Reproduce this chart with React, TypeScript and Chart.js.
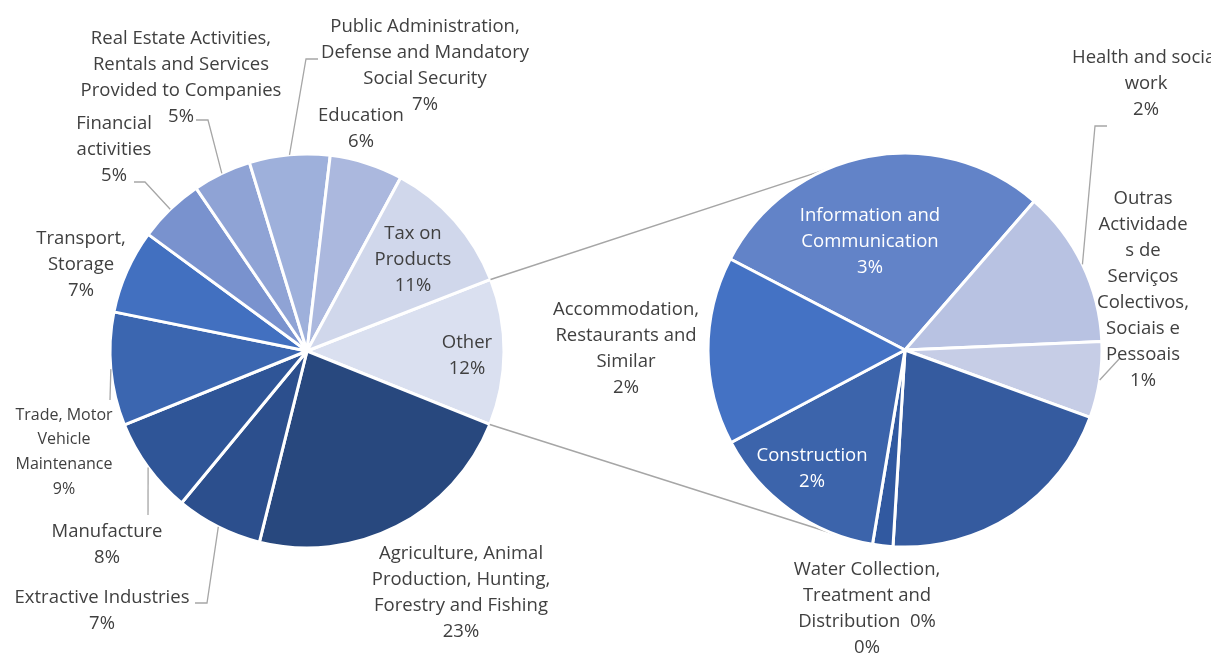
import React, { useEffect, useRef } from "react";
import { Chart, registerables } from "chart.js";

Chart.register(...registerables);

// ---------- data ----------
const detailCategories = [
  "Information and\nCommunication",
  "Health and social\nwork",
  "Outras\nActividade\ns de\nServiços\nColectivos,\nSociais e\nPessoais",
  "",
  "Water Collection,\nTreatment and\nDistribution  0%",
  "Construction",
  "Accommodation,\nRestaurants and\nSimilar",
];
const detailValues = [3.45, 1.55, 0.75, 2.45, 0.2, 1.75, 1.85];
const detailColors = ["#6283C8", "#B8C2E2", "#C6CDE6", "#355B9F", "#3159A0", "#3C64AB", "#4472C4"];

const mainCategories = [
  "Other",
  "Agriculture, Animal\nProduction, Hunting,\nForestry and Fishing",
  "Extractive Industries",
  "Manufacture",
  "Trade, Motor\nVehicle\nMaintenance",
  "Transport,\nStorage",
  "Financial\nactivities",
  "Real Estate Activities,\nRentals and Services\nProvided to Companies",
  "Public Administration,\nDefense and Mandatory\nSocial Security",
  "Education",
  "Tax on\nProducts",
];
const otherValue = detailValues.reduce((a, b) => a + b, 0);
const mainValues = [otherValue, 22.8, 7.1, 7.9, 9.3, 6.9, 5.4, 4.8, 6.6, 6.0, 11.2];
const mainColors = [
  "#DAE0F0", "#28487E", "#2C4F8D", "#2F5597", "#3B66B0", "#4270C0",
  "#7992CE", "#8FA3D5", "#9EB0DB", "#ABB8DE", "#D0D7EB",
];

// ---------- layout (label placement, not data) ----------
type Place = { x: number; y: number; size?: number; lh?: number; color?: string; leader?: number[][] } | null;

const mainLabelLayout: Place[] = [
  { x: 467, y: 341 },
  { x: 461, y: 552 },
  { x: 102, y: 596, leader: [[195, 603], [207, 603]] },
  { x: 107, y: 530, leader: [[148, 515]] },
  { x: 64, y: 413, size: 16, lh: 24.7, leader: [[110, 400]] },
  { x: 81, y: 237 },
  { x: 114, y: 122, leader: [[134, 182], [145, 182]] },
  { x: 181, y: 37, leader: [[196, 120], [208, 120]] },
  { x: 425, y: 25, leader: [[318, 59], [306, 59]] },
  { x: 361, y: 114 },
  { x: 413, y: 232 },
];

const detailLabelLayout: Place[] = [
  { x: 870, y: 214, color: "#FFFFFF" },
  { x: 1146, y: 56, leader: [[1107, 126], [1095, 126]] },
  { x: 1143, y: 197, leader: [[1120, 358]] },
  null,
  { x: 867, y: 568, lh: 25.8 },
  { x: 812, y: 454, color: "#FFFFFF" },
  { x: 626, y: 308 },
];

const connectorAngles = [246.5, 110.5]; // degrees on the second pie's rim
const TEXT = "#404040";
const LEADER = "#A6A6A6";
const FONT = "'Open Sans', Lato, sans-serif";
const TEXT_SHIFT = 2;

function labelPlugin(id: string, cats: string[], vals: number[], total: number, layout: Place[]) {
  return {
    id,
    afterDatasetsDraw(chart: any) {
      const ctx = chart.ctx;
      const meta = chart.getDatasetMeta(0);
      ctx.save();
      meta.data.forEach((arc: any, i: number) => {
        const p = layout[i];
        if (!p) return;
        const { x, y, startAngle, endAngle, outerRadius } = arc.getProps(
          ["x", "y", "startAngle", "endAngle", "outerRadius"], true);
        if (p.leader) {
          const mid = (startAngle + endAngle) / 2;
          ctx.beginPath();
          ctx.strokeStyle = LEADER;
          ctx.lineWidth = 1.3;
          p.leader.forEach((pt, k) => (k === 0 ? ctx.moveTo(pt[0], pt[1]) : ctx.lineTo(pt[0], pt[1])));
          ctx.lineTo(x + Math.cos(mid) * outerRadius, y + Math.sin(mid) * outerRadius);
          ctx.stroke();
        }
        const size = p.size || 18.5;
        const lh = p.lh || 26;
        const pct = Math.round((vals[i] / total) * 100) + "%";
        const lines = cats[i].split("\n").concat([pct]);
        ctx.font = `${size}px ${FONT}`;
        ctx.fillStyle = p.color || TEXT;
        ctx.textAlign = "center";
        ctx.textBaseline = "middle";
        lines.forEach((t, k) => ctx.fillText(t, p.x, p.y + TEXT_SHIFT + k * lh));
      });
      ctx.restore();
    },
  };
}

export default function App() {
  const mainRef = useRef<HTMLCanvasElement>(null);
  const detailRef = useRef<HTMLCanvasElement>(null);

  useEffect(() => {
    const total = mainValues.reduce((a, b) => a + b, 0);
    const mainRotation = 68.7;
    const mainChart = new Chart(mainRef.current!, {
      type: "pie",
      data: {
        labels: mainCategories,
        datasets: [{
          data: mainValues,
          backgroundColor: mainColors,
          borderColor: "#FFFFFF",
          borderWidth: 3,
          hoverBorderWidth: 3,
        }],
      },
      options: {
        responsive: false,
        animation: false,
        events: [],
        rotation: mainRotation,
        layout: { padding: { left: 108.5, right: 705.5, top: 152.5, bottom: 105.5 } },
        plugins: { legend: { display: false }, tooltip: { enabled: false } },
      },
      plugins: [labelPlugin("mainLabels", mainCategories, mainValues, total, mainLabelLayout)],
    });

    const connector = {
      id: "connector",
      beforeDatasetsDraw(chart: any) {
        const arc: any = mainChart.getDatasetMeta(0).data[0];
        const d: any = chart.getDatasetMeta(0).data[0];
        if (!arc || !d) return;
        const a = arc.getProps(["x", "y", "startAngle", "endAngle", "outerRadius"], true);
        const b = d.getProps(["x", "y", "outerRadius"], true);
        const ctx = chart.ctx;
        ctx.save();
        ctx.strokeStyle = LEADER;
        ctx.lineWidth = 1.5;
        const ends = [a.startAngle, a.endAngle];
        ends.forEach((ang: number, k: number) => {
          const t = (connectorAngles[k] * Math.PI) / 180;
          ctx.beginPath();
          ctx.moveTo(a.x + Math.cos(ang) * a.outerRadius, a.y + Math.sin(ang) * a.outerRadius);
          ctx.lineTo(b.x + Math.cos(t) * b.outerRadius, b.y + Math.sin(t) * b.outerRadius);
          ctx.stroke();
        });
        ctx.restore();
      },
    };

    const detailChart = new Chart(detailRef.current!, {
      type: "pie",
      data: {
        labels: detailCategories,
        datasets: [{
          data: detailValues,
          backgroundColor: detailColors,
          borderColor: "#FFFFFF",
          borderWidth: 3,
          hoverBorderWidth: 3,
        }],
      },
      options: {
        responsive: false,
        animation: false,
        events: [],
        rotation: 297.5,
        layout: { padding: { left: 706.5, right: 107.5, top: 151.5, bottom: 106.5 } },
        plugins: { legend: { display: false }, tooltip: { enabled: false } },
      },
      plugins: [connector, labelPlugin("detailLabels", detailCategories, detailValues, total, detailLabelLayout)],
    });

    return () => {
      detailChart.destroy();
      mainChart.destroy();
    };
  }, []);

  const cs: React.CSSProperties = { position: "absolute", left: 0, top: 0, width: 1211, height: 655 };
  return (
    <div style={{ position: "fixed", left: 0, top: 0, width: 1211, height: 655, background: "#FFFFFF", overflow: "hidden" }}>
      <canvas ref={mainRef} width={1211} height={655} style={cs} />
      <canvas ref={detailRef} width={1211} height={655} style={cs} />
    </div>
  );
}
